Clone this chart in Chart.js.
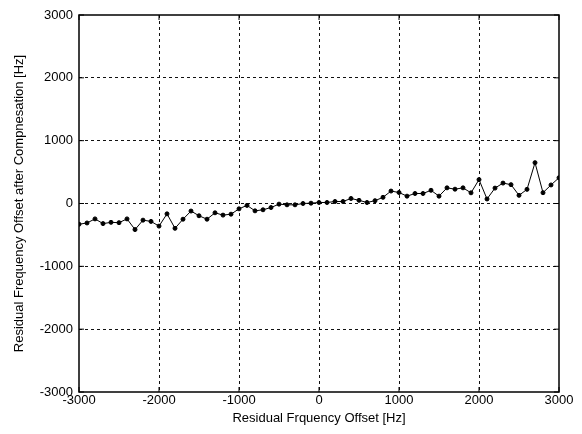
<!DOCTYPE html>
<html>
<head>
<meta charset="utf-8">
<script src="https://cdn.jsdelivr.net/npm/chart.js@4/dist/chart.umd.min.js"></script>
<style>
  html, body { margin: 0; padding: 0; background: #fff; }
  #wrap { width: 582px; height: 434px; }
</style>
</head>
<body>
<div id="wrap"><canvas id="offsetChart"></canvas></div>
<script>
// Residual offset before vs after compensation (Hz)
const offsetIn = [-3000, -2900, -2800, -2700, -2600, -2500, -2400, -2300, -2200, -2100,
  -2000, -1900, -1800, -1700, -1600, -1500, -1400, -1300, -1200, -1100,
  -1000, -900, -800, -700, -600, -500, -400, -300, -200, -100,
  0, 100, 200, 300, 400, 500, 600, 700, 800, 900,
  1000, 1100, 1200, 1300, 1400, 1500, 1600, 1700, 1800, 1900,
  2000, 2100, 2200, 2300, 2400, 2500, 2600, 2700, 2800, 2900, 3000];
const offsetOut = [-330, -310, -245, -320, -300, -305, -245, -415, -265, -285,
  -360, -165, -395, -250, -120, -195, -250, -148, -185, -170,
  -85, -30, -117, -100, -64, -10, -21, -21, 0, 5,
  16, 16, 32, 32, 80, 50, 16, 45, 98, 198,
  175, 117, 159, 159, 210, 117, 249, 228, 249, 170,
  380, 72, 245, 325, 300, 130, 225, 650, 172, 295, 410];
const axisTicks = [-3000, -2000, -1000, 0, 1000, 2000, 3000];

const points = offsetIn.map((x, i) => ({ x: x, y: offsetOut[i] }));

// grid only on inner ticks, edges get the solid box
const gridColor = c => (c.tick && Math.abs(c.tick.value) === 3000) ? 'rgba(0,0,0,0)' : '#111';

// solid frame + short inward tick marks, matlab style
const frame = {
  id: 'frame',
  afterDraw(chart) {
    const { ctx, chartArea: a, scales } = chart;
    ctx.save();
    ctx.setLineDash([]);
    ctx.strokeStyle = '#000';
    ctx.lineWidth = 1.5;
    ctx.strokeRect(a.left, a.top, a.right - a.left, a.bottom - a.top);
    ctx.lineWidth = 1;
    ctx.beginPath();
    axisTicks.forEach(v => {
      const px = scales.x.getPixelForValue(v);
      ctx.moveTo(px, a.bottom); ctx.lineTo(px, a.bottom - 5);
      ctx.moveTo(px, a.top); ctx.lineTo(px, a.top + 5);
      const py = scales.y.getPixelForValue(v);
      ctx.moveTo(a.left, py); ctx.lineTo(a.left + 5, py);
      ctx.moveTo(a.right, py); ctx.lineTo(a.right - 5, py);
    });
    ctx.stroke();
    ctx.restore();
  }
};

const font = { family: '"Liberation Sans", Arial, sans-serif', size: 13 };

new Chart(document.getElementById('offsetChart'), {
  type: 'scatter',
  data: {
    datasets: [{
      data: points,
      showLine: true,
      borderColor: '#000',
      borderWidth: 1,
      backgroundColor: '#000',
      pointRadius: 2,
      pointHoverRadius: 2
    }]
  },
  options: {
    responsive: true,
    maintainAspectRatio: false,
    animation: false,
    layout: { padding: { left: 8, right: 23, top: 15, bottom: 4 } },
    plugins: { legend: { display: false }, tooltip: { enabled: false } },
    scales: {
      x: {
        type: 'linear',
        min: -3000,
        max: 3000,
        afterFit: s => { s.height = 38; },
        afterBuildTicks: s => { s.ticks = axisTicks.map(v => ({ value: v })); },
        ticks: { color: '#000', font: font, padding: 1, maxRotation: 0, callback: v => String(v) },
        grid: { color: gridColor, lineWidth: 1, drawTicks: false },
        border: { display: false, dash: [3, 3] },
        title: { display: true, text: 'Residual Frquency Offset [Hz]', color: '#000', font: font, padding: { top: 2, bottom: 4 } }
      },
      y: {
        type: 'linear',
        min: -3000,
        max: 3000,
        afterFit: s => { s.width = 71; },
        afterBuildTicks: s => { s.ticks = axisTicks.map(v => ({ value: v })); },
        ticks: { color: '#000', font: font, padding: 6, callback: v => String(v) },
        grid: { color: gridColor, lineWidth: 1, drawTicks: false },
        border: { display: false, dash: [3, 3] },
        title: { display: true, text: 'Residual Frequency Offset after Compnesation [Hz]', color: '#000', font: font, padding: { top: 4, bottom: 4 } }
      }
    }
  },
  plugins: [frame]
});
</script>
</body>
</html>
